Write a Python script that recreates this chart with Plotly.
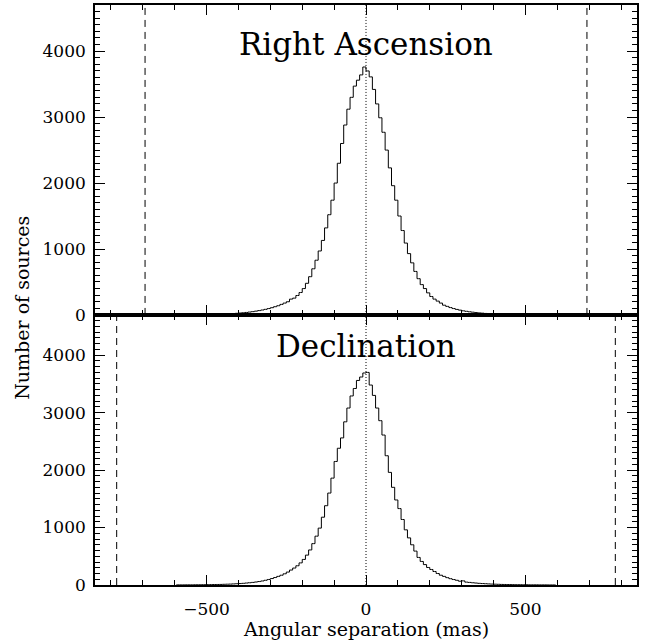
import numpy as np
import plotly.graph_objects as go

# ---- data ----
BIN_START = -600   # mas, left edge of first bin
BIN_WIDTH = 10     # mas

ra_counts = [
    2, 2, 2, 3, 3, 4, 4, 5, 5, 6,
    7, 8, 9, 10, 12, 14, 16, 19, 22, 25,
    29, 33, 38, 44, 50, 58, 66, 75, 85, 97,
    110, 125, 140, 160, 180, 200, 240, 255, 295, 340,
    400, 480, 580, 700, 830, 970, 1130, 1320, 1520, 1740,
    2000, 2300, 2600, 2880, 3120, 3300, 3470, 3560, 3640, 3760,
    3700, 3610, 3420, 3200, 2990, 2770, 2500, 2230, 1960, 1740,
    1500, 1280, 1090, 930, 790, 660, 550, 460, 400, 335,
    280, 240, 210, 180, 148, 130, 112, 97, 84, 73,
    63, 55, 48, 42, 36, 31, 27, 23, 20, 17,
    15, 13, 11, 10, 8, 7, 6, 5, 5, 4,
    4, 3, 3, 3, 2, 2, 2, 1, 1, 1,
]

dec_counts = [
    2, 2, 2, 3, 3, 3, 4, 4, 5, 5,
    6, 7, 8, 9, 10, 12, 14, 16, 19, 22,
    25, 29, 34, 39, 45, 52, 60, 70, 82, 96,
    112, 130, 150, 170, 195, 225, 260, 295, 335, 385,
    445, 520, 610, 720, 850, 990, 1180, 1380, 1600, 1860,
    2150, 2380, 2560, 2840, 3080, 3290, 3420, 3560, 3620, 3690,
    3700, 3480, 3300, 3080, 2860, 2610, 2250, 1960, 1700, 1480,
    1330, 1140, 960, 820, 700, 590, 480, 410, 355, 305,
    270, 235, 200, 170, 150, 128, 110, 95, 82, 66,
    72, 50, 45, 39, 34, 29, 25, 22, 19, 16,
    14, 12, 10, 9, 8, 7, 6, 5, 5, 4,
    4, 3, 3, 3, 2, 2, 2, 1, 1, 1,
]

ra_limits = [-693, 693]     # dashed lines, RA panel
dec_limits = [-782, 782]    # dashed lines, Dec panel
center_line = 0

panel_titles = ["Right Ascension", "Declination"]
x_title = "Angular separation (mas)"
y_title = "Number of sources"
x_tickvals = [-500, 0, 500]
x_ticktext = ["\u2212500", "0", "500"]
y_tickvals = [0, 1000, 2000, 3000, 4000]
x_range = [-850, 850]
y_range = [0, 4700]

# ---- figure ----
centers = BIN_START + BIN_WIDTH / 2 + BIN_WIDTH * np.arange(len(ra_counts))

FONT = "DejaVu Serif"
fig = go.Figure()
fig.add_trace(go.Scatter(x=centers, y=ra_counts, xaxis="x2", yaxis="y2",
                         mode="lines", line=dict(color="black", width=1, shape="hvh"),
                         showlegend=False, hoverinfo="skip"))
fig.add_trace(go.Scatter(x=centers, y=dec_counts, xaxis="x", yaxis="y",
                         mode="lines", line=dict(color="black", width=1, shape="hvh"),
                         showlegend=False, hoverinfo="skip"))

H_BOTTOM = 0.4656

common_x = dict(range=x_range, tickvals=x_tickvals, ticktext=x_ticktext,
                ticks="inside", ticklen=10, tickwidth=1.2, tickcolor="black",
                minor=dict(dtick=100, tick0=0, ticks="inside", ticklen=5, tickwidth=1.2, tickcolor="black"),
                showline=True, linecolor="black", linewidth=1.6, mirror="allticks",
                showgrid=False, zeroline=False,
                tickfont=dict(family=FONT, size=17, color="black"))
common_y = dict(range=y_range, tickvals=y_tickvals,
                ticks="inside", ticklen=10, tickwidth=1.2, tickcolor="black",
                minor=dict(dtick=100, tick0=0, ticks="inside", ticklen=5, tickwidth=1.2, tickcolor="black"),
                showline=True, linecolor="black", linewidth=1.6, mirror="allticks",
                showgrid=False, zeroline=False, ticklabelstandoff=4,
                tickfont=dict(family=FONT, size=17, color="black"))

fig.update_layout(
    width=653, height=642,
    margin=dict(l=95, r=16, t=3, b=57),
    paper_bgcolor="white", plot_bgcolor="white",
    xaxis=dict(domain=[0, 1], anchor="y", ticklabelstandoff=8, **common_x),
    xaxis2=dict(domain=[0, 1], anchor="y2", matches="x", showticklabels=False, **common_x),
    yaxis=dict(domain=[0, H_BOTTOM], anchor="x", **common_y),
    yaxis2=dict(domain=[H_BOTTOM, 1], anchor="x2", **common_y),
)

shapes = []
for xr, yr, lims in (("x2", "y2 domain", ra_limits), ("x", "y domain", dec_limits)):
    shapes.append(dict(type="line", xref=xr, yref=yr, x0=center_line, x1=center_line, y0=0, y1=1,
                       line=dict(color="black", width=1, dash="1px,2px")))
    for v in lims:
        shapes.append(dict(type="line", xref=xr, yref=yr, x0=v, x1=v, y0=0, y1=1,
                           line=dict(color="black", width=1, dash="7px,5px")))
fig.update_layout(shapes=shapes)

annotations = [
    dict(text=panel_titles[0], xref="x2", yref="paper", x=0, y=0.933, showarrow=False,
         xanchor="center", yanchor="middle", font=dict(family=FONT, size=31, color="black")),
    dict(text=panel_titles[1], xref="x", yref="paper", x=0, y=0.412, showarrow=False,
         xanchor="center", yanchor="middle", font=dict(family=FONT, size=31, color="black")),
    dict(text=x_title, xref="paper", yref="paper", x=0.5, y=0, yshift=-44, showarrow=False,
         xanchor="center", yanchor="middle", font=dict(family=FONT, size=19, color="black")),
    dict(text=y_title, xref="paper", yref="paper", x=0, xshift=-73, y=0.478, showarrow=False,
         textangle=-90, xanchor="center", yanchor="middle", font=dict(family=FONT, size=19, color="black")),
]
fig.update_layout(annotations=annotations)

fig.write_html("out.html")
